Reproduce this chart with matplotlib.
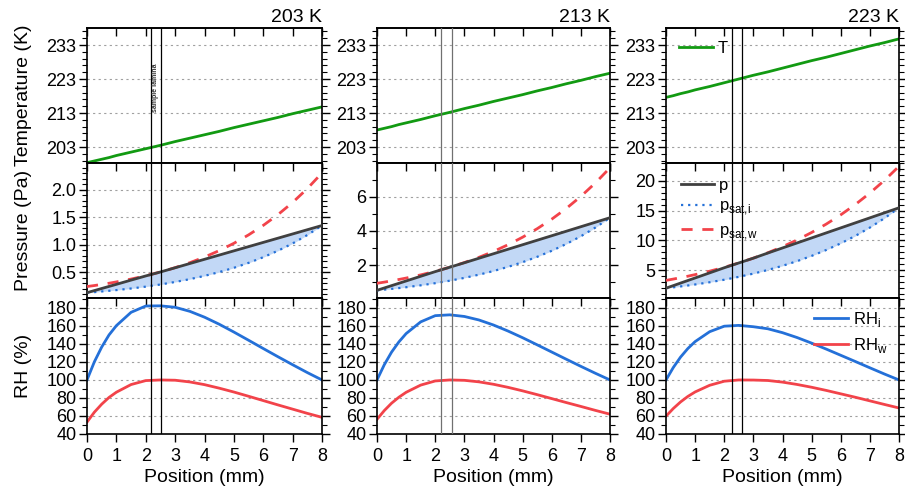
import matplotlib
matplotlib.use("Agg")
import matplotlib.pyplot as plt
from matplotlib.ticker import MultipleLocator, FormatStrFormatter

plt.rcParams['font.family'] = ['Liberation Sans', 'DejaVu Sans']

# position along the sample (mm)
position = [0, 0.25, 0.5, 0.75, 1, 1.5, 2, 2.5, 3, 3.5, 4, 4.5, 5, 5.5, 6, 6.5, 7, 7.5, 8]

# 203 K
temp_203 = [198.4, 198.9, 199.4, 199.9, 200.5, 201.5, 202.5, 203.5, 204.6, 205.6,
            206.6, 207.6, 208.7, 209.7, 210.7, 211.7, 212.8, 213.8, 214.8]
p_203 = [0.127, 0.165, 0.203, 0.241, 0.279, 0.356, 0.432, 0.504, 0.581, 0.658,
         0.735, 0.812, 0.889, 0.966, 1.043, 1.120, 1.197, 1.274, 1.351]
psi_203 = [0.127, 0.137, 0.149, 0.161, 0.174, 0.203, 0.237, 0.276, 0.322, 0.373,
           0.433, 0.502, 0.580, 0.670, 0.773, 0.891, 1.024, 1.177, 1.351]
psw_203 = [0.239, 0.257, 0.278, 0.299, 0.323, 0.375, 0.435, 0.504, 0.583, 0.673,
           0.776, 0.893, 1.027, 1.180, 1.353, 1.549, 1.771, 2.023, 2.309]
rhi_203 = [100, 120.1, 136.5, 150.0, 160.3, 175.1, 182.1, 182.3, 180.7, 176.2,
           169.7, 161.9, 153.2, 144.1, 134.9, 125.8, 116.9, 108.2, 100]
rhw_203 = [53.2, 64.2, 73.1, 80.6, 86.4, 94.9, 99.3, 100, 99.7, 97.8,
           94.8, 90.9, 86.6, 81.9, 77.1, 72.3, 67.6, 62.9, 58.5]

# 213 K
temp_213 = [208.0, 208.5, 209.0, 209.6, 210.1, 211.1, 212.2, 213.2, 214.3, 215.3,
            216.4, 217.4, 218.4, 219.5, 220.5, 221.6, 222.6, 223.7, 224.7]
p_213 = [0.529, 0.666, 0.802, 0.939, 1.075, 1.349, 1.622, 1.879, 2.140, 2.403,
         2.666, 2.930, 3.193, 3.456, 3.719, 3.982, 4.246, 4.509, 4.772]
psi_213 = [0.529, 0.569, 0.613, 0.660, 0.709, 0.820, 0.946, 1.091, 1.255, 1.443,
           1.656, 1.899, 2.174, 2.486, 2.839, 3.238, 3.689, 4.198, 4.772]
psw_213 = [0.940, 1.008, 1.082, 1.162, 1.245, 1.430, 1.640, 1.879, 2.150, 2.456,
           2.802, 3.193, 3.634, 4.130, 4.688, 5.315, 6.019, 6.808, 7.691]
rhi_213 = [100, 116.9, 130.9, 142.2, 151.5, 164.5, 171.4, 172.3, 170.5, 166.6,
           161.0, 154.3, 146.9, 139.0, 131.0, 123.0, 115.1, 107.4, 100]
rhw_213 = [56.3, 66.0, 74.2, 80.8, 86.3, 94.3, 98.9, 100, 99.6, 97.9,
           95.2, 91.8, 87.9, 83.7, 79.3, 74.9, 70.6, 66.2, 62.0]

# 223 K
temp_223 = [217.6, 218.1, 218.7, 219.2, 219.8, 220.8, 221.9, 223.0, 224.1, 225.1,
            226.2, 227.3, 228.4, 229.4, 230.5, 231.6, 232.7, 233.7, 234.8]
p_223 = [1.951, 2.380, 2.810, 3.239, 3.668, 4.527, 5.386, 6.192, 7.000, 7.867,
         8.712, 9.556, 10.400, 11.245, 12.089, 12.933, 13.778, 14.622, 15.466]
psi_223 = [1.951, 2.092, 2.242, 2.401, 2.572, 2.948, 3.373, 3.855, 4.401, 5.016,
           5.712, 6.496, 7.379, 8.372, 9.487, 10.737, 12.140, 13.711, 15.466]
psw_223 = [3.261, 3.483, 3.717, 3.965, 4.232, 4.811, 5.461, 6.192, 7.004, 7.911,
           8.925, 10.056, 11.319, 12.723, 14.285, 16.017, 17.945, 20.080, 22.443]
rhi_223 = [100, 113.8, 125.4, 134.9, 142.6, 153.6, 159.7, 160.6, 159.1, 156.8,
           152.5, 147.1, 140.9, 134.3, 127.4, 120.5, 113.5, 106.6, 100]
rhw_223 = [59.8, 68.3, 75.6, 81.7, 86.7, 94.1, 98.6, 100, 99.9, 99.4,
           97.6, 95.0, 91.9, 88.4, 84.6, 80.8, 76.8, 72.8, 68.9]

titles = ["203 K", "213 K", "223 K"]
lamina = [(2.17, 2.51), (2.2, 2.57), (2.26, 2.62)]

temps = [temp_203, temp_213, temp_223]
pressures = [p_203, p_213, p_223]
psat_ice = [psi_203, psi_213, psi_223]
psat_water = [psw_203, psw_213, psw_223]
rh_ice = [rhi_203, rhi_213, rhi_223]
rh_water = [rhw_203, rhw_213, rhw_223]

p_limits = [(0.03, 2.49), (0.08, 7.97), (0.3, 23.0)]
p_major = [0.5, 2, 5]
p_minor = [0.1, 1, 1]
p_fmt = ["%.1f", "%d", "%d"]

GREEN = "#129a12"
GREY = "#404040"
BLUE = "#2470d8"
RED = "#f2434a"

TICK_FS = 13
LABEL_FS = 14
LEG_FS = 12

fig = plt.figure(figsize=(9.05, 4.95), dpi=100)
lefts = [87, 377, 666]
widths = [235, 233, 233]
rows = [(28, 163), (163, 298), (298, 434)]


def style(ax, major, minor, fmt=None, offset=0):
    ax.set_xlim(0, 8)
    ax.xaxis.set_major_locator(MultipleLocator(1))
    ax.yaxis.set_major_locator(MultipleLocator(major, offset=offset))
    ax.yaxis.set_minor_locator(MultipleLocator(minor, offset=offset % minor))
    if fmt:
        ax.yaxis.set_major_formatter(FormatStrFormatter(fmt))
    ax.tick_params(axis='y', which='major', direction='out', length=6, width=1,
                   left=True, right=True, labelsize=TICK_FS, pad=1.5)
    ax.tick_params(axis='y', which='minor', direction='out', length=3.5, width=0.8,
                   left=True, right=True)
    ax.tick_params(axis='x', which='major', direction='out', length=6, width=1,
                   labelsize=TICK_FS, pad=4)
    top = ax.secondary_xaxis('top')
    top.xaxis.set_major_locator(MultipleLocator(1))
    top.tick_params(direction='in', length=6, width=1, labeltop=False)
    for s in list(ax.spines.values()) + list(top.spines.values()):
        s.set_linewidth(1.2)
    ax.grid(axis='y', which='major', linestyle=(0, (2, 3)), color='#a0a0a0', linewidth=0.8)
    ax.set_axisbelow(True)


for c in range(3):
    x0 = lefts[c] / 905
    w = widths[c] / 905
    axes = []
    for top_px, bot_px in rows:
        axes.append(fig.add_axes([x0, 1 - bot_px / 495, w, (bot_px - top_px) / 495]))
    ax_t, ax_p, ax_rh = axes

    # temperature
    ax_t.plot(position, temps[c], color=GREEN, lw=2, label="T")
    ax_t.set_ylim(198.3, 238)
    style(ax_t, 10, 2, offset=3)
    ax_t.tick_params(axis='x', labelbottom=False)
    ax_t.set_title(titles[c], loc='right', fontsize=LABEL_FS, pad=4)

    # pressure
    ax_p.fill_between(position, pressures[c], psat_ice[c], color='#c2d8f6', lw=0)
    ax_p.plot(position, pressures[c], color=GREY, lw=2, label="p", zorder=4)
    ax_p.plot(position, psat_ice[c], color=BLUE, lw=1.6, linestyle=(0, (1, 2.2)),
              label=r"p$_{\mathregular{sat{,}i}}$", zorder=3)
    ax_p.plot(position, psat_water[c], color=RED, lw=2, linestyle=(0, (4, 3.5)),
              label=r"p$_{\mathregular{sat{,}w}}$", zorder=3)
    ax_p.set_ylim(*p_limits[c])
    style(ax_p, p_major[c], p_minor[c], p_fmt[c])
    ax_p.tick_params(axis='x', labelbottom=False)

    # relative humidity
    ax_rh.plot(position, rh_ice[c], color=BLUE, lw=2, label=r"RH$_{\mathregular{i}}$")
    ax_rh.plot(position, rh_water[c], color=RED, lw=2, label=r"RH$_{\mathregular{w}}$")
    ax_rh.set_ylim(40, 191)
    style(ax_rh, 20, 10)
    ax_rh.set_xlabel("Position (mm)", fontsize=LABEL_FS, labelpad=3)

    line_col = '#707070' if c == 1 else 'black'
    for ax in axes:
        for xv in lamina[c]:
            ax.axvline(xv, color=line_col, lw=0.9, zorder=5)

    if c == 0:
        ax_t.set_ylabel("Temperature (K)", fontsize=LABEL_FS)
        ax_p.set_ylabel("Pressure (Pa)", fontsize=LABEL_FS)
        ax_rh.set_ylabel("RH (%)", fontsize=LABEL_FS)
        for ax in axes:
            ax.yaxis.set_label_coords(-0.235, 0.5)
        ax_t.text(sum(lamina[0]) / 2, 220.5, "sample lamina", rotation=90,
                  fontsize=5, fontweight='bold', color='#333333',
                  ha='center', va='center', zorder=6)
    if c == 2:
        ax_t.legend(loc='upper left', frameon=False, fontsize=LEG_FS, handlelength=2.0,
                    handletextpad=0.3, borderaxespad=0.4)
        ax_p.legend(loc='upper left', frameon=False, fontsize=LEG_FS, handlelength=2.0,
                    handletextpad=0.3, labelspacing=0.35, borderaxespad=0.5)
        ax_rh.legend(loc='upper right', frameon=False, fontsize=LEG_FS, handlelength=2.0,
                     handletextpad=0.3, labelspacing=0.45, borderaxespad=0.3)

fig.savefig("out.png", dpi=100)
